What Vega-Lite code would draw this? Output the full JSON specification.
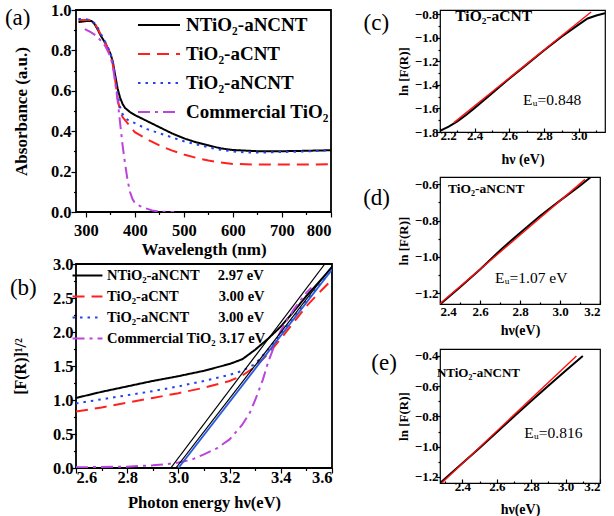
{
  "$schema": "https://vega.github.io/schema/vega-lite/v6.json",
  "padding": {"left": 3, "top": 1, "right": 0, "bottom": 0},
  "background": "white",
  "spacing": 28,
  "resolve": {"scale": {"color": "independent", "strokeDash": "independent"}},
  "datasets": {
    "absorb": [
      {"s": "NTiO₂-aNCNT", "x": 285, "y": 0.94}, {"s": "NTiO₂-aNCNT", "x": 300, "y": 0.945}, {"s": "NTiO₂-aNCNT", "x": 312, "y": 0.945}, {"s": "NTiO₂-aNCNT", "x": 318, "y": 0.93}, {"s": "NTiO₂-aNCNT", "x": 325, "y": 0.9}, {"s": "NTiO₂-aNCNT", "x": 330, "y": 0.875}, {"s": "NTiO₂-aNCNT", "x": 340, "y": 0.835}, {"s": "NTiO₂-aNCNT", "x": 350, "y": 0.785}, {"s": "NTiO₂-aNCNT", "x": 355, "y": 0.745}, {"s": "NTiO₂-aNCNT", "x": 360, "y": 0.675}, {"s": "NTiO₂-aNCNT", "x": 365, "y": 0.61}, {"s": "NTiO₂-aNCNT", "x": 370, "y": 0.565}, {"s": "NTiO₂-aNCNT", "x": 375, "y": 0.535}, {"s": "NTiO₂-aNCNT", "x": 380, "y": 0.515}, {"s": "NTiO₂-aNCNT", "x": 390, "y": 0.495}, {"s": "NTiO₂-aNCNT", "x": 400, "y": 0.48}, {"s": "NTiO₂-aNCNT", "x": 425, "y": 0.45}, {"s": "NTiO₂-aNCNT", "x": 450, "y": 0.42}, {"s": "NTiO₂-aNCNT", "x": 475, "y": 0.39}, {"s": "NTiO₂-aNCNT", "x": 500, "y": 0.365}, {"s": "NTiO₂-aNCNT", "x": 525, "y": 0.345}, {"s": "NTiO₂-aNCNT", "x": 550, "y": 0.33}, {"s": "NTiO₂-aNCNT", "x": 575, "y": 0.315}, {"s": "NTiO₂-aNCNT", "x": 600, "y": 0.307}, {"s": "NTiO₂-aNCNT", "x": 650, "y": 0.301}, {"s": "NTiO₂-aNCNT", "x": 700, "y": 0.301}, {"s": "NTiO₂-aNCNT", "x": 750, "y": 0.303}, {"s": "NTiO₂-aNCNT", "x": 800, "y": 0.306},
      {"s": "TiO₂-aCNT", "x": 285, "y": 0.95}, {"s": "TiO₂-aCNT", "x": 300, "y": 0.95}, {"s": "TiO₂-aCNT", "x": 312, "y": 0.95}, {"s": "TiO₂-aCNT", "x": 318, "y": 0.935}, {"s": "TiO₂-aCNT", "x": 325, "y": 0.905}, {"s": "TiO₂-aCNT", "x": 330, "y": 0.88}, {"s": "TiO₂-aCNT", "x": 340, "y": 0.835}, {"s": "TiO₂-aCNT", "x": 350, "y": 0.785}, {"s": "TiO₂-aCNT", "x": 355, "y": 0.73}, {"s": "TiO₂-aCNT", "x": 360, "y": 0.65}, {"s": "TiO₂-aCNT", "x": 365, "y": 0.56}, {"s": "TiO₂-aCNT", "x": 370, "y": 0.5}, {"s": "TiO₂-aCNT", "x": 375, "y": 0.47}, {"s": "TiO₂-aCNT", "x": 380, "y": 0.455}, {"s": "TiO₂-aCNT", "x": 390, "y": 0.425}, {"s": "TiO₂-aCNT", "x": 400, "y": 0.395}, {"s": "TiO₂-aCNT", "x": 425, "y": 0.36}, {"s": "TiO₂-aCNT", "x": 450, "y": 0.33}, {"s": "TiO₂-aCNT", "x": 475, "y": 0.305}, {"s": "TiO₂-aCNT", "x": 500, "y": 0.285}, {"s": "TiO₂-aCNT", "x": 525, "y": 0.268}, {"s": "TiO₂-aCNT", "x": 550, "y": 0.255}, {"s": "TiO₂-aCNT", "x": 575, "y": 0.245}, {"s": "TiO₂-aCNT", "x": 600, "y": 0.238}, {"s": "TiO₂-aCNT", "x": 650, "y": 0.235}, {"s": "TiO₂-aCNT", "x": 700, "y": 0.235}, {"s": "TiO₂-aCNT", "x": 750, "y": 0.235}, {"s": "TiO₂-aCNT", "x": 800, "y": 0.236},
      {"s": "TiO₂-aNCNT", "x": 285, "y": 0.955}, {"s": "TiO₂-aNCNT", "x": 300, "y": 0.955}, {"s": "TiO₂-aNCNT", "x": 310, "y": 0.95}, {"s": "TiO₂-aNCNT", "x": 318, "y": 0.935}, {"s": "TiO₂-aNCNT", "x": 325, "y": 0.91}, {"s": "TiO₂-aNCNT", "x": 330, "y": 0.885}, {"s": "TiO₂-aNCNT", "x": 340, "y": 0.84}, {"s": "TiO₂-aNCNT", "x": 350, "y": 0.79}, {"s": "TiO₂-aNCNT", "x": 355, "y": 0.745}, {"s": "TiO₂-aNCNT", "x": 360, "y": 0.67}, {"s": "TiO₂-aNCNT", "x": 365, "y": 0.58}, {"s": "TiO₂-aNCNT", "x": 370, "y": 0.52}, {"s": "TiO₂-aNCNT", "x": 375, "y": 0.485}, {"s": "TiO₂-aNCNT", "x": 380, "y": 0.465}, {"s": "TiO₂-aNCNT", "x": 390, "y": 0.45}, {"s": "TiO₂-aNCNT", "x": 400, "y": 0.44}, {"s": "TiO₂-aNCNT", "x": 425, "y": 0.41}, {"s": "TiO₂-aNCNT", "x": 450, "y": 0.39}, {"s": "TiO₂-aNCNT", "x": 475, "y": 0.37}, {"s": "TiO₂-aNCNT", "x": 500, "y": 0.35}, {"s": "TiO₂-aNCNT", "x": 525, "y": 0.335}, {"s": "TiO₂-aNCNT", "x": 550, "y": 0.32}, {"s": "TiO₂-aNCNT", "x": 575, "y": 0.308}, {"s": "TiO₂-aNCNT", "x": 600, "y": 0.3}, {"s": "TiO₂-aNCNT", "x": 625, "y": 0.295}, {"s": "TiO₂-aNCNT", "x": 650, "y": 0.294}, {"s": "TiO₂-aNCNT", "x": 700, "y": 0.297}, {"s": "TiO₂-aNCNT", "x": 750, "y": 0.3}, {"s": "TiO₂-aNCNT", "x": 800, "y": 0.305},
      {"s": "Commercial TiO₂", "x": 298, "y": 0.905}, {"s": "Commercial TiO₂", "x": 310, "y": 0.89}, {"s": "Commercial TiO₂", "x": 320, "y": 0.875}, {"s": "Commercial TiO₂", "x": 330, "y": 0.85}, {"s": "Commercial TiO₂", "x": 340, "y": 0.82}, {"s": "Commercial TiO₂", "x": 350, "y": 0.77}, {"s": "Commercial TiO₂", "x": 355, "y": 0.725}, {"s": "Commercial TiO₂", "x": 360, "y": 0.64}, {"s": "Commercial TiO₂", "x": 365, "y": 0.55}, {"s": "Commercial TiO₂", "x": 370, "y": 0.44}, {"s": "Commercial TiO₂", "x": 375, "y": 0.33}, {"s": "Commercial TiO₂", "x": 380, "y": 0.24}, {"s": "Commercial TiO₂", "x": 385, "y": 0.16}, {"s": "Commercial TiO₂", "x": 390, "y": 0.1}, {"s": "Commercial TiO₂", "x": 395, "y": 0.065}, {"s": "Commercial TiO₂", "x": 400, "y": 0.045}, {"s": "Commercial TiO₂", "x": 410, "y": 0.03}, {"s": "Commercial TiO₂", "x": 420, "y": 0.02}, {"s": "Commercial TiO₂", "x": 435, "y": 0.008}, {"s": "Commercial TiO₂", "x": 450, "y": 0.002}, {"s": "Commercial TiO₂", "x": 480, "y": 0.0}
    ],
    "kubelka": [
      {"s": "NTiO₂-aNCNT", "x": 2.6, "y": 1.03}, {"s": "NTiO₂-aNCNT", "x": 2.7, "y": 1.12}, {"s": "NTiO₂-aNCNT", "x": 2.8, "y": 1.2}, {"s": "NTiO₂-aNCNT", "x": 2.9, "y": 1.28}, {"s": "NTiO₂-aNCNT", "x": 3.0, "y": 1.35}, {"s": "NTiO₂-aNCNT", "x": 3.1, "y": 1.43}, {"s": "NTiO₂-aNCNT", "x": 3.2, "y": 1.53}, {"s": "NTiO₂-aNCNT", "x": 3.25, "y": 1.6}, {"s": "NTiO₂-aNCNT", "x": 3.3, "y": 1.74}, {"s": "NTiO₂-aNCNT", "x": 3.35, "y": 1.9}, {"s": "NTiO₂-aNCNT", "x": 3.4, "y": 2.08}, {"s": "NTiO₂-aNCNT", "x": 3.45, "y": 2.3}, {"s": "NTiO₂-aNCNT", "x": 3.5, "y": 2.53}, {"s": "NTiO₂-aNCNT", "x": 3.55, "y": 2.74}, {"s": "NTiO₂-aNCNT", "x": 3.6, "y": 2.95},
      {"s": "TiO₂-aCNT", "x": 2.6, "y": 0.83}, {"s": "TiO₂-aCNT", "x": 2.7, "y": 0.89}, {"s": "TiO₂-aCNT", "x": 2.8, "y": 0.96}, {"s": "TiO₂-aCNT", "x": 2.9, "y": 1.03}, {"s": "TiO₂-aCNT", "x": 3.0, "y": 1.1}, {"s": "TiO₂-aCNT", "x": 3.1, "y": 1.18}, {"s": "TiO₂-aCNT", "x": 3.2, "y": 1.28}, {"s": "TiO₂-aCNT", "x": 3.25, "y": 1.36}, {"s": "TiO₂-aCNT", "x": 3.3, "y": 1.49}, {"s": "TiO₂-aCNT", "x": 3.35, "y": 1.68}, {"s": "TiO₂-aCNT", "x": 3.4, "y": 1.9}, {"s": "TiO₂-aCNT", "x": 3.45, "y": 2.14}, {"s": "TiO₂-aCNT", "x": 3.5, "y": 2.38}, {"s": "TiO₂-aCNT", "x": 3.55, "y": 2.58}, {"s": "TiO₂-aCNT", "x": 3.6, "y": 2.77},
      {"s": "TiO₂-aNCNT", "x": 2.6, "y": 0.95}, {"s": "TiO₂-aNCNT", "x": 2.7, "y": 1.01}, {"s": "TiO₂-aNCNT", "x": 2.8, "y": 1.07}, {"s": "TiO₂-aNCNT", "x": 2.9, "y": 1.13}, {"s": "TiO₂-aNCNT", "x": 3.0, "y": 1.2}, {"s": "TiO₂-aNCNT", "x": 3.1, "y": 1.28}, {"s": "TiO₂-aNCNT", "x": 3.2, "y": 1.37}, {"s": "TiO₂-aNCNT", "x": 3.25, "y": 1.43}, {"s": "TiO₂-aNCNT", "x": 3.3, "y": 1.53}, {"s": "TiO₂-aNCNT", "x": 3.35, "y": 1.74}, {"s": "TiO₂-aNCNT", "x": 3.4, "y": 1.97}, {"s": "TiO₂-aNCNT", "x": 3.45, "y": 2.2}, {"s": "TiO₂-aNCNT", "x": 3.5, "y": 2.45}, {"s": "TiO₂-aNCNT", "x": 3.55, "y": 2.69}, {"s": "TiO₂-aNCNT", "x": 3.6, "y": 2.92},
      {"s": "Commercial TiO₂", "x": 2.6, "y": 0.01}, {"s": "Commercial TiO₂", "x": 2.7, "y": 0.015}, {"s": "Commercial TiO₂", "x": 2.8, "y": 0.02}, {"s": "Commercial TiO₂", "x": 2.9, "y": 0.04}, {"s": "Commercial TiO₂", "x": 2.95, "y": 0.055}, {"s": "Commercial TiO₂", "x": 3.0, "y": 0.08}, {"s": "Commercial TiO₂", "x": 3.05, "y": 0.12}, {"s": "Commercial TiO₂", "x": 3.1, "y": 0.2}, {"s": "Commercial TiO₂", "x": 3.15, "y": 0.29}, {"s": "Commercial TiO₂", "x": 3.2, "y": 0.42}, {"s": "Commercial TiO₂", "x": 3.25, "y": 0.64}, {"s": "Commercial TiO₂", "x": 3.28, "y": 0.82}, {"s": "Commercial TiO₂", "x": 3.3, "y": 1.0}, {"s": "Commercial TiO₂", "x": 3.33, "y": 1.3}, {"s": "Commercial TiO₂", "x": 3.35, "y": 1.55}, {"s": "Commercial TiO₂", "x": 3.38, "y": 1.85}, {"s": "Commercial TiO₂", "x": 3.4, "y": 2.02}, {"s": "Commercial TiO₂", "x": 3.45, "y": 2.33}, {"s": "Commercial TiO₂", "x": 3.5, "y": 2.58}, {"s": "Commercial TiO₂", "x": 3.52, "y": 2.65}
    ]
  },
  "hconcat": [
    {
      "vconcat": [
        {
          "width": 255, "height": 202,
          "encoding": {
            "x": {"field": "x", "type": "quantitative", "scale": {"domain": [280, 800], "nice": false, "zero": false}, "axis": {"title": "Wavelength (nm)", "values": [300, 350, 400, 450, 500, 550, 600, 650, 700, 750, 800], "labelExpr": "datum.value % 100 === 0 ? datum.label : ''", "tickSize": 5, "tickDash": {"condition": {"test": "datum.value % 100 === 0", "value": [5, 0]}, "value": [2.5, 10]}, "labelFontSize": 16.5, "titleFontSize": 17, "labelPadding": 5, "titlePadding": 3}},
            "y": {"field": "y", "type": "quantitative", "scale": {"domain": [0, 1], "nice": false}, "axis": {"title": "Absorbance (a.u.)", "values": [0, 0.1, 0.2, 0.3, 0.4, 0.5, 0.6, 0.7, 0.8, 0.9, 1.0], "format": ".1f", "labelExpr": "abs(datum.value*5 - round(datum.value*5)) < 0.001 ? datum.label : ''", "tickSize": 5, "tickDash": {"condition": {"test": "abs(datum.value*5 - round(datum.value*5)) < 0.001", "value": [5, 0]}, "value": [2.5, 10]}, "labelFontSize": 16.5, "titleFontSize": 17, "labelPadding": 0, "titlePadding": 20}}
          },
          "layer": [
            {
              "data": {"name": "absorb"},
              "mark": {"type": "line", "strokeWidth": 2, "clip": true},
              "encoding": {
                "color": {"field": "s", "type": "nominal", "scale": {"domain": ["NTiO₂-aNCNT", "TiO₂-aCNT", "TiO₂-aNCNT", "Commercial TiO₂"], "range": ["#000000", "#ff2020", "#2244ee", "#bb44dd"]}, "legend": {"title": null, "orient": "top-right", "offset": 2, "symbolType": "M-1.75,0L1.75,0", "symbolSize": 576, "symbolStrokeWidth": 2, "rowPadding": 6, "labelFontSize": 19, "labelOffset": 14, "labelLimit": 400, "padding": 0}},
                "strokeDash": {"field": "s", "type": "nominal", "scale": {"domain": ["NTiO₂-aNCNT", "TiO₂-aCNT", "TiO₂-aNCNT", "Commercial TiO₂"], "range": [[1, 0], [12, 7], [2.5, 5], [12, 5, 3, 5]]}, "legend": {"title": null, "orient": "top-right", "offset": 2, "symbolType": "M-1.75,0L1.75,0", "symbolSize": 576, "symbolStrokeWidth": 2, "rowPadding": 6, "labelFontSize": 19, "labelOffset": 14, "labelLimit": 400, "padding": 0}}
              }
            },
            {
              "data": {"values": [{"x": 135, "y": 0.958, "t": "(a)"}]},
              "mark": {"type": "text", "align": "left", "baseline": "middle", "fontSize": 23, "font": "Liberation Serif"},
              "encoding": {"text": {"field": "t"}}
            }
          ]
        },
        {
          "width": 256, "height": 204,
          "encoding": {
            "x": {"field": "x", "type": "quantitative", "scale": {"domain": [2.6, 3.6], "nice": false, "zero": false}, "axis": {"title": "Photon energy hν(eV)", "values": [2.6, 2.7, 2.8, 2.9, 3.0, 3.1, 3.2, 3.3, 3.4, 3.5, 3.6], "format": ".1f", "labelExpr": "abs(datum.value*5 - round(datum.value*5)) < 0.001 ? datum.label : ''", "tickSize": 5, "tickDash": {"condition": {"test": "abs(datum.value*5 - round(datum.value*5)) < 0.001", "value": [5, 0]}, "value": [2.5, 10]}, "labelFontSize": 16.5, "titleFontSize": 16.5, "labelPadding": -4, "titlePadding": 9}},
            "y": {"field": "y", "type": "quantitative", "scale": {"domain": [0, 3], "nice": false}, "axis": {"title": "[F(R)]¹/²", "values": [0, 0.25, 0.5, 0.75, 1.0, 1.25, 1.5, 1.75, 2.0, 2.25, 2.5, 2.75, 3.0], "format": ".1f", "labelExpr": "abs(datum.value*2 - round(datum.value*2)) < 0.001 ? datum.label : ''", "tickSize": 5, "tickDash": {"condition": {"test": "abs(datum.value*2 - round(datum.value*2)) < 0.001", "value": [5, 0]}, "value": [2.5, 10]}, "labelFontSize": 16.5, "titleFontSize": 16, "labelPadding": -2, "titlePadding": 24}}
          },
          "layer": [
            {
              "data": {"name": "kubelka"},
              "mark": {"type": "line", "strokeWidth": 2, "clip": true},
              "encoding": {
                "color": {"field": "s", "type": "nominal", "scale": {"domain": ["NTiO₂-aNCNT", "TiO₂-aCNT", "TiO₂-aNCNT", "Commercial TiO₂"], "range": ["#000000", "#ff2020", "#2244ee", "#bb44dd"]}, "legend": {"title": null, "orient": "top-left", "offset": 2, "symbolType": "M-1.76,0L1.76,0", "symbolSize": 289, "symbolStrokeWidth": 2, "rowPadding": 5, "labelFontSize": 14.5, "labelOffset": 10, "labelLimit": 400, "padding": 0, "labelExpr": "datum.label == 'NTiO₂-aNCNT' ? 'NTiO₂-aNCNT\u00a0\u00a0\u00a0\u00a0\u00a02.97 eV' : datum.label == 'TiO₂-aCNT' ? 'TiO₂-aCNT\u00a0\u00a0\u00a0\u00a0\u00a0\u00a0\u00a0\u00a0\u00a0\u00a0\u00a03.00 eV' : datum.label == 'TiO₂-aNCNT' ? 'TiO₂-aNCNT\u00a0\u00a0\u00a0\u00a0\u00a0\u00a0\u00a0\u00a03.00 eV' : 'Commercial TiO₂\u00a03.17 eV'"}},
                "strokeDash": {"field": "s", "type": "nominal", "scale": {"domain": ["NTiO₂-aNCNT", "TiO₂-aCNT", "TiO₂-aNCNT", "Commercial TiO₂"], "range": [[1, 0], [12, 7], [2.5, 5], [12, 5, 3, 5]]}, "legend": {"title": null, "orient": "top-left", "offset": 2, "symbolType": "M-1.76,0L1.76,0", "symbolSize": 289, "symbolStrokeWidth": 2, "rowPadding": 5, "labelFontSize": 14.5, "labelOffset": 10, "labelLimit": 400, "padding": 0, "labelExpr": "datum.label == 'NTiO₂-aNCNT' ? 'NTiO₂-aNCNT\u00a0\u00a0\u00a0\u00a0\u00a02.97 eV' : datum.label == 'TiO₂-aCNT' ? 'TiO₂-aCNT\u00a0\u00a0\u00a0\u00a0\u00a0\u00a0\u00a0\u00a0\u00a0\u00a0\u00a03.00 eV' : datum.label == 'TiO₂-aNCNT' ? 'TiO₂-aNCNT\u00a0\u00a0\u00a0\u00a0\u00a0\u00a0\u00a0\u00a03.00 eV' : 'Commercial TiO₂\u00a03.17 eV'"}}
              }
            },
            {
              "data": {"values": [{"id": "t1", "x": 2.97, "y": 0}, {"id": "t1", "x": 3.572, "y": 3.0}, {"id": "t2", "x": 2.99, "y": 0}, {"id": "t2", "x": 3.6, "y": 2.97}]},
              "mark": {"type": "line", "strokeWidth": 1.2, "color": "black", "clip": true},
              "encoding": {"detail": {"field": "id"}}
            },
            {
              "data": {"values": [{"id": "t3", "x": 3.0, "y": 0}, {"id": "t3", "x": 3.6, "y": 2.92}]},
              "mark": {"type": "line", "strokeWidth": 1.8, "color": "#2a5ae0", "clip": true},
              "encoding": {"detail": {"field": "id"}}
            },
            {
              "data": {"values": [{"x": 2.342, "y": 2.64, "t": "(b)"}]},
              "mark": {"type": "text", "align": "left", "baseline": "middle", "fontSize": 23, "font": "Liberation Serif"},
              "encoding": {"text": {"field": "t"}}
            }
          ]
        }
      ],
      "spacing": 52,
      "bounds": "flush",
      "resolve": {"scale": {"color": "independent", "strokeDash": "independent"}}
    },
    {
      "vconcat": [
        {
          "width": 165, "height": 122,
          "view": {"stroke": "black", "strokeWidth": 1.2},
          "encoding": {
            "x": {"field": "x", "type": "quantitative", "scale": {"domain": [2.2, 3.15], "nice": false, "zero": false}, "axis": {"title": "hν (eV)", "values": [2.2, 2.3, 2.4, 2.5, 2.6, 2.7, 2.8, 2.9, 3.0, 3.1], "format": ".1f", "labelExpr": "abs(datum.value*5 - round(datum.value*5)) < 0.001 ? datum.label : ''", "tickSize": -4, "tickDash": {"condition": {"test": "abs(datum.value*5 - round(datum.value*5)) < 0.001", "value": [4, 0]}, "value": [2, 10]}, "labelFontSize": 13, "titleFontSize": 14, "labelPadding": 1, "titlePadding": 10}},
            "y": {"field": "y", "type": "quantitative", "scale": {"domain": [-1.8, -0.763], "nice": false, "zero": false}, "axis": {"title": "ln [F(R)]", "values": [-1.8, -1.7, -1.6, -1.5, -1.4, -1.3, -1.2, -1.1, -1.0, -0.9, -0.8], "format": ".1f", "labelExpr": "abs(datum.value*5 - round(datum.value*5)) < 0.001 ? datum.label : ''", "tickSize": 4, "tickDash": {"condition": {"test": "abs(datum.value*5 - round(datum.value*5)) < 0.001", "value": [4, 0]}, "value": [2, 10]}, "labelFontSize": 13, "titleFontSize": 13, "labelPadding": -2, "titlePadding": 4}}
          },
          "layer": [
            {"data": {"values": [{"x": 2.2, "y": -1.79}, {"x": 2.25, "y": -1.755}, {"x": 2.3, "y": -1.71}, {"x": 2.35, "y": -1.655}, {"x": 2.4, "y": -1.595}, {"x": 2.5, "y": -1.47}, {"x": 2.6, "y": -1.345}, {"x": 2.7, "y": -1.225}, {"x": 2.8, "y": -1.105}, {"x": 2.9, "y": -0.99}, {"x": 3.0, "y": -0.885}, {"x": 3.05, "y": -0.835}, {"x": 3.1, "y": -0.81}, {"x": 3.15, "y": -0.79}]},
             "mark": {"type": "line", "color": "black", "strokeWidth": 2, "clip": true}, "encoding": {}},
            {"data": {"values": [{"x": 2.28, "y": -1.72}, {"x": 3.07, "y": -0.78}]},
             "mark": {"type": "line", "color": "#ff1010", "strokeWidth": 1.4, "clip": true}, "encoding": {}},
            {"data": {"values": [{"x": 2.288, "y": -0.814, "t": "TiO₂-aCNT"}]},
             "mark": {"type": "text", "align": "left", "baseline": "middle", "fontSize": 15.5, "fontWeight": "bold"}, "encoding": {"text": {"field": "t"}}},
            {"data": {"values": [{"x": 2.678, "y": -1.528, "t": "Eᵤ=0.848"}]},
             "mark": {"type": "text", "align": "left", "baseline": "middle", "fontSize": 15.5}, "encoding": {"text": {"field": "t"}}},
            {"data": {"values": [{"x": 1.76, "y": -0.874, "t": "(c)"}]},
             "mark": {"type": "text", "align": "left", "baseline": "middle", "fontSize": 23}, "encoding": {"text": {"field": "t"}}}
          ]
        },
        {
          "width": 160, "height": 127,
          "view": {"stroke": "black", "strokeWidth": 1.2},
          "encoding": {
            "x": {"field": "x", "type": "quantitative", "scale": {"domain": [2.4, 3.2], "nice": false, "zero": false}, "axis": {"title": "hν(eV)", "values": [2.4, 2.5, 2.6, 2.7, 2.8, 2.9, 3.0, 3.1, 3.2], "format": ".1f", "labelExpr": "abs(datum.value*5 - round(datum.value*5)) < 0.001 ? datum.label : ''", "tickSize": -4, "tickDash": {"condition": {"test": "abs(datum.value*5 - round(datum.value*5)) < 0.001", "value": [4, 0]}, "value": [2, 10]}, "labelFontSize": 13, "titleFontSize": 14, "labelPadding": 5, "titlePadding": 5}},
            "y": {"field": "y", "type": "quantitative", "scale": {"domain": [-1.26, -0.56], "nice": false, "zero": false}, "axis": {"title": "ln [F(R)]", "values": [-1.2, -1.1, -1.0, -0.9, -0.8, -0.7, -0.6], "format": ".1f", "labelExpr": "abs(datum.value*5 - round(datum.value*5)) < 0.001 ? datum.label : ''", "tickSize": 4, "tickDash": {"condition": {"test": "abs(datum.value*5 - round(datum.value*5)) < 0.001", "value": [4, 0]}, "value": [2, 10]}, "labelFontSize": 13, "titleFontSize": 13, "labelPadding": -2, "titlePadding": 4}}
          },
          "layer": [
            {"data": {"values": [{"x": 2.4, "y": -1.262}, {"x": 2.5, "y": -1.168}, {"x": 2.6, "y": -1.07}, {"x": 2.7, "y": -0.965}, {"x": 2.8, "y": -0.868}, {"x": 2.9, "y": -0.775}, {"x": 3.0, "y": -0.69}, {"x": 3.1, "y": -0.608}, {"x": 3.16, "y": -0.555}]},
             "mark": {"type": "line", "color": "black", "strokeWidth": 2, "clip": true}, "encoding": {}},
            {"data": {"values": [{"x": 2.4, "y": -1.258}, {"x": 3.125, "y": -0.573}]},
             "mark": {"type": "line", "color": "#ff1010", "strokeWidth": 1.4, "clip": true}, "encoding": {}},
            {"data": {"values": [{"x": 2.44, "y": -0.627, "t": "TiO₂-aNCNT"}]},
             "mark": {"type": "text", "align": "left", "baseline": "middle", "fontSize": 13.5, "fontWeight": "bold"}, "encoding": {"text": {"field": "t"}}},
            {"data": {"values": [{"x": 2.675, "y": -1.114, "t": "Eᵤ=1.07 eV"}]},
             "mark": {"type": "text", "align": "left", "baseline": "middle", "fontSize": 15.5}, "encoding": {"text": {"field": "t"}}},
            {"data": {"values": [{"x": 2.016, "y": -0.676, "t": "(d)"}]},
             "mark": {"type": "text", "align": "left", "baseline": "middle", "fontSize": 23}, "encoding": {"text": {"field": "t"}}}
          ]
        },
        {
          "width": 160, "height": 134,
          "view": {"stroke": "black", "strokeWidth": 1.2},
          "encoding": {
            "x": {"field": "x", "type": "quantitative", "scale": {"domain": [2.27, 3.2], "nice": false, "zero": false}, "axis": {"title": "hν(eV)", "values": [2.3, 2.4, 2.5, 2.6, 2.7, 2.8, 2.9, 3.0, 3.1, 3.2], "format": ".1f", "labelExpr": "abs(datum.value*5 - round(datum.value*5)) < 0.001 ? datum.label : ''", "tickSize": -4, "tickDash": {"condition": {"test": "abs(datum.value*5 - round(datum.value*5)) < 0.001", "value": [4, 0]}, "value": [2, 10]}, "labelFontSize": 13, "titleFontSize": 14, "labelPadding": 1, "titlePadding": 9}},
            "y": {"field": "y", "type": "quantitative", "scale": {"domain": [-1.24, -0.354], "nice": false, "zero": false}, "axis": {"title": "ln [F(R)]", "values": [-1.2, -1.1, -1.0, -0.9, -0.8, -0.7, -0.6, -0.5, -0.4], "format": ".1f", "labelExpr": "abs(datum.value*5 - round(datum.value*5)) < 0.001 ? datum.label : ''", "tickSize": 4, "tickDash": {"condition": {"test": "abs(datum.value*5 - round(datum.value*5)) < 0.001", "value": [4, 0]}, "value": [2, 10]}, "labelFontSize": 13, "titleFontSize": 13, "labelPadding": -2, "titlePadding": 4}}
          },
          "layer": [
            {"data": {"values": [{"x": 2.27, "y": -1.24}, {"x": 2.4, "y": -1.11}, {"x": 2.5, "y": -1.008}, {"x": 2.6, "y": -0.905}, {"x": 2.7, "y": -0.8}, {"x": 2.8, "y": -0.698}, {"x": 2.9, "y": -0.597}, {"x": 3.0, "y": -0.498}, {"x": 3.1, "y": -0.4}]},
             "mark": {"type": "line", "color": "black", "strokeWidth": 2, "clip": true}, "encoding": {}},
            {"data": {"values": [{"x": 2.28, "y": -1.24}, {"x": 3.063, "y": -0.4}]},
             "mark": {"type": "line", "color": "#ff1010", "strokeWidth": 1.4, "clip": true}, "encoding": {}},
            {"data": {"values": [{"x": 2.252, "y": -0.511, "t": "NTiO₂-aNCNT"}]},
             "mark": {"type": "text", "align": "left", "baseline": "middle", "fontSize": 13, "fontWeight": "bold"}, "encoding": {"text": {"field": "t"}}},
            {"data": {"values": [{"x": 2.76, "y": -0.909, "t": "Eᵤ=0.816"}]},
             "mark": {"type": "text", "align": "left", "baseline": "middle", "fontSize": 15.5}, "encoding": {"text": {"field": "t"}}},
            {"data": {"values": [{"x": 1.871, "y": -0.446, "t": "(e)"}]},
             "mark": {"type": "text", "align": "left", "baseline": "middle", "fontSize": 23}, "encoding": {"text": {"field": "t"}}}
          ]
        }
      ],
      "spacing": 45,
      "bounds": "flush"
    }
  ],
  "config": {
    "font": "Liberation Serif",
    "view": {"stroke": "black", "strokeWidth": 1.8},
    "axis": {"domain": false, "grid": false, "ticks": true, "tickColor": "black", "tickWidth": 1.2, "labelColor": "black", "titleColor": "black", "labelFont": "Liberation Serif", "titleFont": "Liberation Serif", "labelFontWeight": "bold", "titleFontWeight": "bold"},
    "legend": {"labelFont": "Liberation Serif", "labelFontWeight": "bold", "labelColor": "black"},
    "text": {"font": "Liberation Serif", "color": "black"}
  }
}
